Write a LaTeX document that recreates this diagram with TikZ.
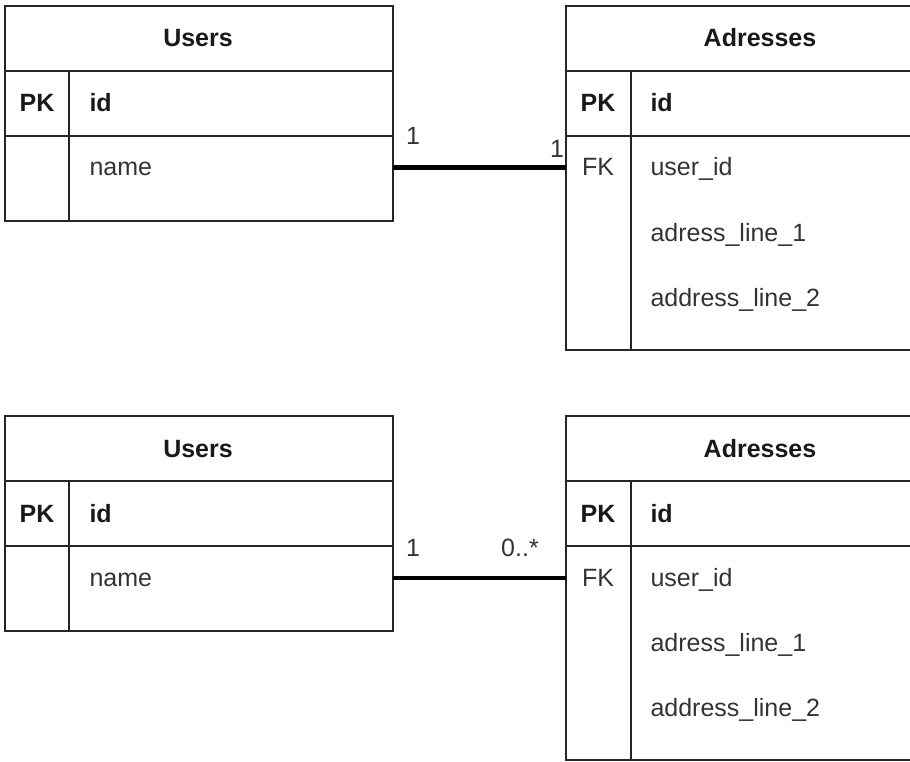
\documentclass[tikz,border=0pt]{standalone}
\usepackage{fontspec}
\setmainfont{Liberation Sans}
\newcommand{\taille}{\fontsize{25}{30}\selectfont}
\tikzset{
    table/.style={draw=black!85,line width=1.6pt},
    titre/.style={anchor=base,font=\taille\bfseries,text=black!90},
    cle/.style={anchor=base,text=black!80},
    gras/.style={font=\taille\bfseries,text=black!90},
    champ/.style={anchor=base west,text=black!80},
    lien/.style={draw=black,line width=#1},
  }

\begin{document}
\begin{tikzpicture}[x=1pt,y=-1pt,font=\taille]
				  \useasboundingbox (0,0) rectangle (910,762);
				  \clip (0,0) rectangle (910,762);
				  %a: relation 1--1, b: relation 1--0..*
				  \foreach \y/\r in {0/a,410/b}{
				  \begin{scope}[yshift=-\y pt]
				  %USERS
				  \draw[table] (5,6) rectangle (393,221);
				  \draw[table] (5,71) -- (393,71);
				  \draw[table] (5,136) -- (393,136);
				  \draw[table] (69,71) -- (69,221);
				  \node[titre] (users\r) at (198,47) {Users};
				  \node[cle,gras] (upk\r) at (37,112) {PK};
				  \node[champ,gras] (uid\r) at (86,112) {id};
				  \node[champ] (uname\r) at (86,176) {name};
				  \coordinate (u\r) at (393,168);

				  %ADRESSES
				  \draw[table] (566,6) rectangle (954,350);
				  \draw[table] (566,71) -- (954,71);
				  \draw[table] (566,136) -- (954,136);
				  \draw[table] (631,71) -- (631,350);
				  \node[titre] (adr\r) at (760,47) {Adresses};
				  \node[cle,gras] (apk\r) at (598,112) {PK};
				  \node[champ,gras] (aid\r) at (647,112) {id};
				  \node[cle] (afk\r) at (598,176) {FK};
				  \node[champ] (auser\r) at (647,176) {user\_id};
				  \node[champ] (aline1\r) at (647,241) {adress\_line\_1};
				  \node[champ] (aline2\r) at (647,306) {address\_line\_2};
				  \coordinate (a\r) at (566,168);
				  \end{scope}
				  }

				  %LIENS
				  \draw[lien=5pt] (ua) -- (aa);
				  \draw[lien=4pt] (ub) -- (ab);
				  \node[cle] (ca1) at (413,145) {1};
				  \node[cle] (ca2) at (557,158) {1};
				  \node[cle] (cb1) at (413,556) {1};
				  \node[cle] (cb2) at (520,556) {0..*};
				  \end{tikzpicture}
\end{document}
